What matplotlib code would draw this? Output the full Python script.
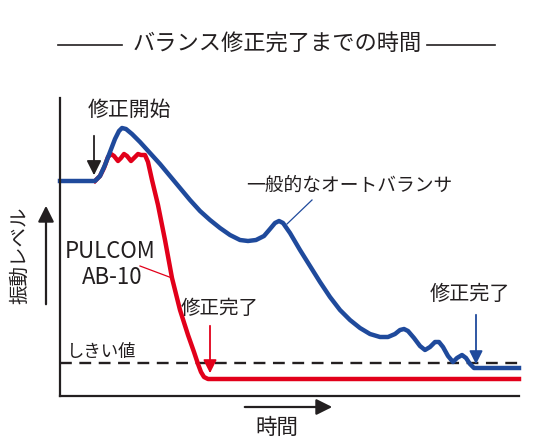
import matplotlib
matplotlib.use('Agg')
import matplotlib.pyplot as plt
from matplotlib.lines import Line2D

plt.rcParams['font.family'] = ['Noto Sans CJK JP', 'DejaVu Sans']

# schematic values (time / level in arbitrary units)
blue_t = [0, 35, 40, 45, 50, 55, 59, 62, 66, 72, 80, 90, 100, 110, 120, 130, 140, 150, 160,
          170, 180, 188, 196, 204, 210, 215, 219, 223, 230, 240, 250, 260, 270, 280, 290,
          300, 310, 320, 328, 335, 340, 344, 348, 354, 360, 365, 370, 375, 379, 383, 388,
          393, 397, 402, 406, 410, 414, 420, 459]
blue_lv = [215, 215, 220, 231, 244, 257, 265, 268, 267, 262, 254, 243, 232, 220, 208, 196, 185,
           176, 168, 161, 156, 155, 156, 160, 167, 173, 175, 173, 163, 146, 130, 114, 99, 86,
           76, 68, 62, 59, 59, 62, 66, 67, 65, 58, 50, 46, 49, 54, 54, 49, 40, 34, 38, 41,
           38, 32, 28, 28, 28]

red_t = [35, 40, 44, 48, 51, 54, 58, 61, 64, 67, 71, 74, 78, 81, 85, 88, 92, 98, 105, 112,
         120, 128, 134, 138, 141, 144, 148, 459]
red_lv = [215, 220, 228, 239, 242, 240, 235, 238, 242, 240, 235, 238, 242, 241, 241, 234, 216,
          191, 156, 118, 86, 61, 44, 32, 24, 19, 17, 17]

threshold = 33

BLUE = '#1f4a9c'
RED = '#e2001a'
INK = '#231f20'

W, H = 540, 445


def fpx(px, py):
    # picture pixels (top-left origin) -> figure fraction
    return px / W, 1 - py / H


fig = plt.figure(figsize=(W / 100, H / 100), dpi=100)
ax = fig.add_axes([60 / W, 1 - 396 / H, 459 / W, 298 / H])
ax.set_xlim(0, 459)
ax.set_ylim(0, 298)
for s in ['top', 'right']:
    ax.spines[s].set_visible(False)
for s in ['left', 'bottom']:
    ax.spines[s].set_linewidth(1.6)
    ax.spines[s].set_color(INK)
ax.set_xticks([])
ax.set_yticks([])

ax.axhline(threshold, color=INK, lw=1.7, linestyle=(0, (5, 3.2)))
ax.plot(red_t, red_lv, color=RED, lw=3.2, solid_joinstyle='round', clip_on=False)
ax.plot(blue_t, blue_lv, color=BLUE, lw=3.2, solid_joinstyle='round', clip_on=False)

# labels and pointers
ax.text(69, 286, '修正開始', fontsize=15, color=INK, ha='center', va='center')
ax.annotate('', xy=(34, 218), xytext=(34, 263),
            arrowprops=dict(arrowstyle='-|>', color=INK, lw=1.3, mutation_scale=22))

ax.text(289, 211, '一般的なオートバランサ', fontsize=13.5, color=INK, ha='center', va='center')
ax.plot([227, 252], [172, 196], color=BLUE, lw=0.9)

ax.text(50, 144, 'PULCOM', fontsize=16, color=INK, ha='center', va='center')
ax.text(52, 118, 'AB-10', fontsize=16, color=INK, ha='center', va='center')
ax.plot([80, 112], [130, 118], color=RED, lw=0.9)

ax.text(160, 88, '修正完了', fontsize=14, color=INK, ha='center', va='center')
ax.annotate('', xy=(150, 20), xytext=(150, 73),
            arrowprops=dict(arrowstyle='-|>', color=RED, lw=1.3, mutation_scale=20))

ax.text(410, 101, '修正完了', fontsize=14.5, color=INK, ha='center', va='center')
ax.annotate('', xy=(416, 29), xytext=(416, 84),
            arrowprops=dict(arrowstyle='-|>', color=BLUE, lw=1.3, mutation_scale=20))

ax.text(7, 44, 'しきい値', fontsize=12.5, color=INK, ha='left', va='center')

# axis names with arrows
fig.text(*fpx(20, 255), '振動レベル', fontsize=14, color=INK, rotation=90,
         ha='center', va='center')
ax.annotate('', xy=fpx(46, 203), xytext=fpx(46, 307), xycoords='figure fraction',
            textcoords='figure fraction',
            arrowprops=dict(arrowstyle='-|>', color=INK, lw=1.6, mutation_scale=24))
fig.text(*fpx(277, 428), '時間', fontsize=15.5, color=INK, ha='center', va='center')
ax.annotate('', xy=fpx(335, 407), xytext=fpx(242, 407), xycoords='figure fraction',
            textcoords='figure fraction',
            arrowprops=dict(arrowstyle='-|>', color=INK, lw=1.6, mutation_scale=24))

# title with rules on both sides
fig.text(*fpx(277, 44), 'バランス修正完了までの時間', fontsize=16, color=INK,
         ha='center', va='center')
for x0, x1 in [(58, 122), (427, 495)]:
    (a, b), (c, d) = fpx(x0, 45), fpx(x1, 45)
    fig.add_artist(Line2D([a, c], [b, d], color=INK, lw=1.2, transform=fig.transFigure))

fig.savefig('out.png', dpi=100)
